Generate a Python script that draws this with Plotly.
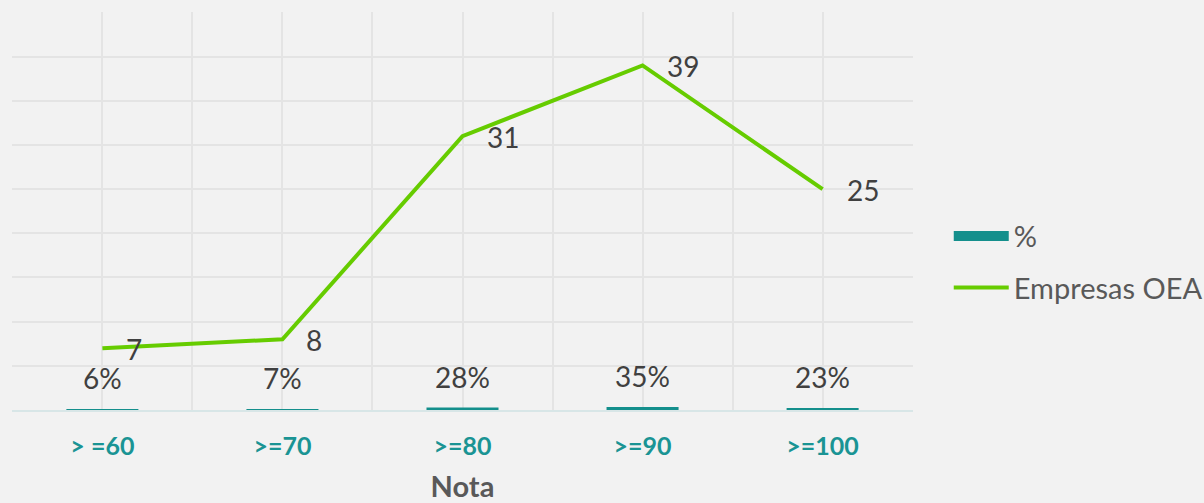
import plotly.graph_objects as go

categories = ["> =60", ">=70", ">=80", ">=90", ">=100"]
pct_values = [0.06, 0.07, 0.28, 0.35, 0.23]
pct_labels = ["6%", "7%", "28%", "35%", "23%"]
empresas = [7, 8, 31, 39, 25]

x = list(range(len(categories)))
BG = "#f2f2f2"
GRID = "#e4e4e4"
TEAL = "#148f8c"
GREEN = "#66cc00"
FONT = "Lato, Open Sans, sans-serif"

fig = go.Figure()
fig.add_trace(go.Bar(
    x=x, y=pct_values, name="%", marker=dict(color=TEAL, line=dict(width=0)),
    width=0.4, showlegend=False,
))
# legend entry for the bar series drawn as a wide swatch
fig.add_trace(go.Scatter(
    x=[None], y=[None], name="%", mode="lines",
    line=dict(color=TEAL, width=18), legendgroup="a",
))
fig.add_trace(go.Scatter(
    x=x, y=empresas, name="Empresas OEA", mode="lines",
    line=dict(color=GREEN, width=4), legendgroup="b",
))

for xi, v, t in zip(x, pct_values, pct_labels):
    fig.add_annotation(x=xi, y=v, text=t, showarrow=False, xanchor="center",
                       yanchor="bottom", yshift=12,
                       font=dict(family=FONT, size=28, color="#404040"))
for xi, v in zip(x, empresas):
    fig.add_annotation(x=xi, y=v, text=str(v), showarrow=False, xanchor="left",
                       yanchor="middle", xshift=22, yshift=-1,
                       font=dict(family=FONT, size=28, color="#404040"))

fig.update_layout(
    width=1204, height=503,
    paper_bgcolor=BG, plot_bgcolor=BG,
    margin=dict(l=12, r=291, t=12, b=93),
    font=dict(family=FONT, color="#595959"),
    showlegend=True,
    legend=dict(xref="container", yref="container", x=0.788, y=0.479,
                xanchor="left", yanchor="middle",
                font=dict(family=FONT, size=29, color="#595959"),
                bgcolor="rgba(0,0,0,0)", tracegroupgap=11, itemwidth=55),
    xaxis=dict(
        range=[-0.502, 4.502], tickmode="array", tickvals=x, ticktext=categories,
        showgrid=True, gridcolor=GRID, gridwidth=1.5,
        minor=dict(tickvals=[i - 0.5 for i in range(len(categories) + 1)],
                   showgrid=True, gridcolor=GRID, gridwidth=1.5),
        tickfont=dict(family=FONT, size=25, color="#1a9494", weight="bold"),
        ticks="", ticklabelstandoff=13, automargin=False,
        showline=True, linecolor="#d8e6e7", linewidth=2,
        zeroline=False,
        title=dict(text="<b>Nota</b>", font=dict(family=FONT, size=29, color="#595959"),
                   standoff=28),
    ),
    yaxis=dict(
        range=[0, 45.05], tickmode="array", tickvals=[5 * i for i in range(10)],
        showticklabels=False, showgrid=True, automargin=False,
        gridcolor=GRID, gridwidth=1.5, zeroline=False,
    ),
    bargap=0.6,
)

fig.write_html("out.html", config={"displayModeBar": False},
               post_script="document.body.style.margin='0';")
